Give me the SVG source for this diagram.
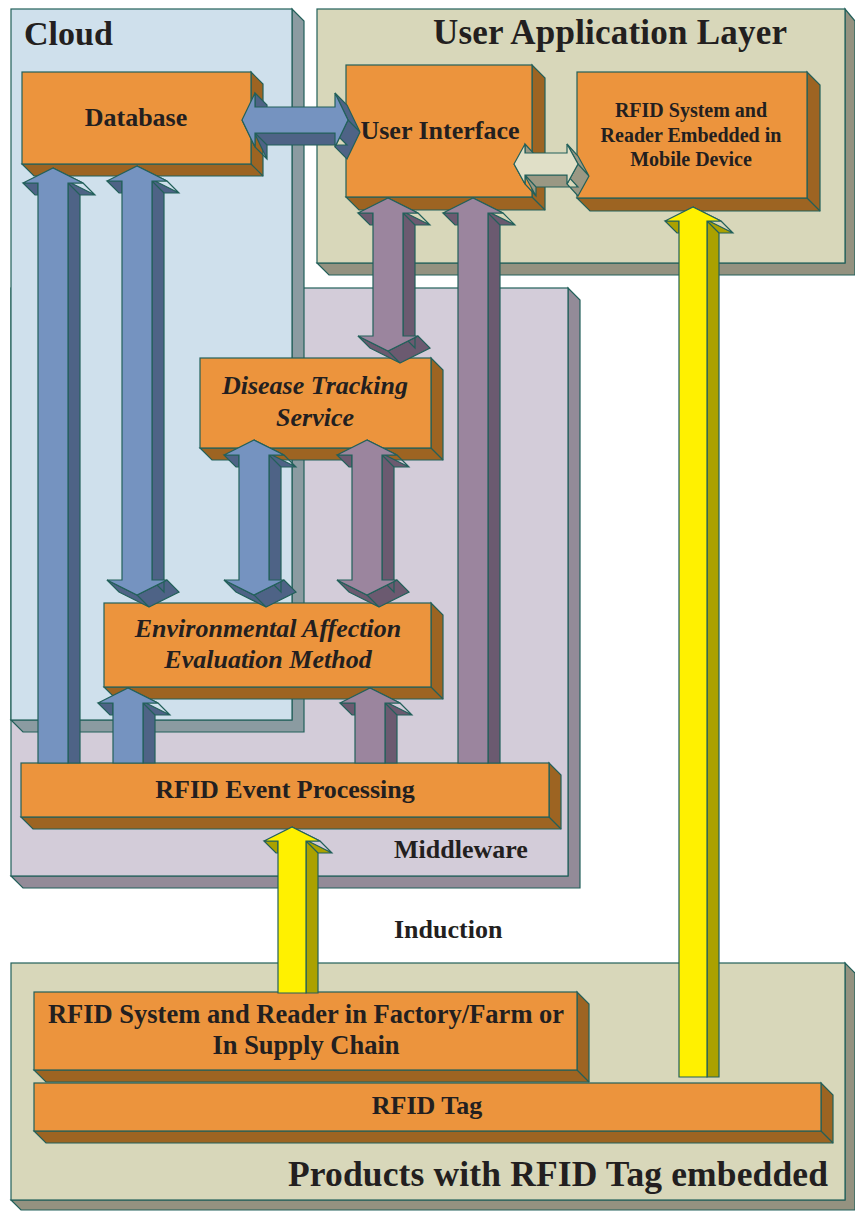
<svg xmlns="http://www.w3.org/2000/svg" width="855" height="1211" viewBox="0 0 855 1211">
<style>
  .s { stroke:#22605a; stroke-width:1.2; stroke-linejoin:miter; }
  .t { font-family:"Liberation Serif","Times New Roman",serif; font-weight:bold; fill:#231f20; }
  .c { text-anchor:middle; }
  .i { font-style:italic; }
  .of { fill:#ec943d; } .os { fill:#9d6422; }
  .cf { fill:#cfe0ec; } .cs { fill:#8b9ba1; }
  .uf { fill:#d8d7ba; } .us { fill:#949280; }
  .mf { fill:#d3ccd9; } .ms { fill:#938b98; }
  .bf { fill:#7593c0; } .bs { fill:#4e6386; }
  .pf { fill:#9b859e; } .ps { fill:#6b5a70; }
  .yf { fill:#fff100; } .ys { fill:#aba100; }
  .gf { fill:#e0dfc7; } .gs { fill:#9a9884; }
</style>
<rect width="855" height="1211" fill="#ffffff"/>

<!-- Panels -->
<g id="middleware">
  <polygon class="s ms" points="568,288 580,300 580,888 23,888 11,876 568,876"/>
  <rect class="s mf" x="11" y="288" width="557" height="588"/>
  <text class="t" x="394" y="858" font-size="26">Middleware</text>
</g>
<g id="cloud">
  <polygon class="s cs" points="292,9 304,21 304,732 23,732 11,720 292,720"/>
  <rect class="s cf" x="11" y="9" width="281" height="711"/>
  <text class="t" x="24" y="45" font-size="34">Cloud</text>
</g>
<g id="user-application-layer">
  <polygon class="s us" points="845,9 855,21 855,275 329,275 317,263 845,263"/>
  <rect class="s uf" x="317" y="9" width="528" height="254"/>
  <text class="t" x="433" y="44" font-size="35" textLength="354">User Application Layer</text>
</g>
<g id="products">
  <polygon class="s us" points="845,963 855,973 855,1210 21,1210 11,1200 845,1200"/>
  <rect class="s uf" x="11" y="963" width="834" height="237"/>
  <text class="t" x="288" y="1186" font-size="35.5" textLength="540">Products with RFID Tag embedded</text>
</g>

<text id="induction" class="t" x="394" y="938" font-size="26">Induction</text>

<!-- Nodes -->
<g id="database">
  <polygon class="s os" points="251,72 263,84 263,176 34,176 22,164 251,164"/>
  <line class="s" x1="251" y1="164" x2="263" y2="176"/>
  <rect class="s of" x="22" y="72" width="229" height="92"/>
  <text class="t c" x="136" y="126" font-size="26">Database</text>
</g>
<g id="user-interface">
  <polygon class="s os" points="532,65 545,78 545,210 359,210 346,197 532,197"/>
  <line class="s" x1="532" y1="197" x2="545" y2="210"/>
  <rect class="s of" x="346" y="65" width="186" height="132"/>
  <text class="t c" x="440" y="139" font-size="26">User Interface</text>
</g>
<g id="rfid-mobile">
  <polygon class="s os" points="807,72 820,85 820,211 590,211 577,198 807,198"/>
  <line class="s" x1="807" y1="198" x2="820" y2="211"/>
  <rect class="s of" x="577" y="72" width="230" height="126"/>
  <text class="t c" x="691" y="117" font-size="20">RFID System and</text>
  <text class="t c" x="691" y="142" font-size="20">Reader Embedded in</text>
  <text class="t c" x="691" y="166" font-size="20">Mobile Device</text>
</g>
<g id="disease-tracking">
  <polygon class="s os" points="431,358 443,370 443,460 212,460 200,448 431,448"/>
  <line class="s" x1="431" y1="448" x2="443" y2="460"/>
  <rect class="s of" x="200" y="358" width="231" height="90"/>
  <text class="t i c" x="315" y="394" font-size="26">Disease Tracking</text>
  <text class="t i c" x="315" y="426" font-size="26">Service</text>
</g>
<g id="environmental">
  <polygon class="s os" points="431,603 443,615 443,699 116,699 104,687 431,687"/>
  <line class="s" x1="431" y1="687" x2="443" y2="699"/>
  <rect class="s of" x="104" y="603" width="327" height="84"/>
  <text class="t i c" x="268" y="637" font-size="26">Environmental Affection</text>
  <text class="t i c" x="268" y="668" font-size="26">Evaluation Method</text>
</g>
<g id="rfid-event-processing">
  <polygon class="s os" points="549,763 561,775 561,829 33,829 21,817 549,817"/>
  <line class="s" x1="549" y1="817" x2="561" y2="829"/>
  <rect class="s of" x="21" y="763" width="528" height="54"/>
  <text class="t c" x="285" y="798" font-size="26">RFID Event Processing</text>
</g>
<g id="rfid-factory">
  <polygon class="s os" points="577,992 589,1004 589,1082 46,1082 34,1070 577,1070"/>
  <line class="s" x1="577" y1="1070" x2="589" y2="1082"/>
  <rect class="s of" x="34" y="992" width="543" height="78"/>
  <text class="t c" x="306" y="1023" font-size="26.5">RFID System and Reader in Factory/Farm or</text>
  <text class="t c" x="306" y="1054" font-size="26.5">In Supply Chain</text>
</g>
<g id="rfid-tag">
  <polygon class="s os" points="821,1083 833,1095 833,1143 46,1143 34,1131 821,1131"/>
  <line class="s" x1="821" y1="1131" x2="833" y2="1143"/>
  <rect class="s of" x="34" y="1083" width="787" height="48"/>
  <text class="t c" x="427" y="1114" font-size="26">RFID Tag</text>
</g>

<!-- Connectors -->
<g id="connectors">
  <!-- EventProc -> Database (blue, up) -->
  <g transform="translate(53,168)">
    <path class="s bs" d="M15,15 L27,27 L27,595 L15,595 Z M0,0 L12,12 L42,27 L30,15 Z M30,15 L42,27 L27,27 L15,15 Z M-30,15 L-18,27 L-15,27 L-15,15 Z"/>
    <path class="s bf" d="M0,0 L30,15 L15,15 L15,595 L-15,595 L-15,15 L-30,15 Z"/>
  </g>
  <!-- Database <-> EAEM (blue, double) -->
  <g transform="translate(137,166)">
    <path class="s bs" d="M15,15 L27,27 L27,426 L15,414 Z M0,0 L12,12 L42,27 L30,15 Z M30,15 L42,27 L27,27 L15,15 Z M-30,15 L-18,27 L-15,27 L-15,15 Z M0,429 L30,414 L42,426 L12,441 Z M-30,414 L0,429 L12,441 L-18,426 Z"/>
    <path class="s bf" d="M0,0 L30,15 L15,15 L15,414 L30,414 L0,429 L-30,414 L-15,414 L-15,15 L-30,15 Z"/>
  </g>
  <!-- EventProc -> EAEM (blue, up) -->
  <g transform="translate(128,688)">
    <path class="s bs" d="M15,15 L27,27 L27,75 L15,75 Z M0,0 L12,12 L42,27 L30,15 Z M30,15 L42,27 L27,27 L15,15 Z M-30,15 L-18,27 L-15,27 L-15,15 Z"/>
    <path class="s bf" d="M0,0 L30,15 L15,15 L15,75 L-15,75 L-15,15 L-30,15 Z"/>
  </g>
  <!-- DTS <-> EAEM (blue, double) -->
  <g transform="translate(254,440)">
    <path class="s bs" d="M15,15 L27,27 L27,152 L15,140 Z M0,0 L12,12 L42,27 L30,15 Z M30,15 L42,27 L27,27 L15,15 Z M-30,15 L-18,27 L-15,27 L-15,15 Z M0,155 L30,140 L42,152 L12,167 Z M-30,140 L0,155 L12,167 L-18,152 Z"/>
    <path class="s bf" d="M0,0 L30,15 L15,15 L15,140 L30,140 L0,155 L-30,140 L-15,140 L-15,15 L-30,15 Z"/>
  </g>
  <!-- DTS <-> EAEM (purple, double) -->
  <g transform="translate(367,440)">
    <path class="s ps" d="M15,15 L27,27 L27,152 L15,140 Z M0,0 L12,12 L42,27 L30,15 Z M30,15 L42,27 L27,27 L15,15 Z M-30,15 L-18,27 L-15,27 L-15,15 Z M0,155 L30,140 L42,152 L12,167 Z M-30,140 L0,155 L12,167 L-18,152 Z"/>
    <path class="s pf" d="M0,0 L30,15 L15,15 L15,140 L30,140 L0,155 L-30,140 L-15,140 L-15,15 L-30,15 Z"/>
  </g>
  <!-- EventProc -> EAEM (purple, up) -->
  <g transform="translate(370,688)">
    <path class="s ps" d="M15,15 L27,27 L27,75 L15,75 Z M0,0 L12,12 L42,27 L30,15 Z M30,15 L42,27 L27,27 L15,15 Z M-30,15 L-18,27 L-15,27 L-15,15 Z"/>
    <path class="s pf" d="M0,0 L30,15 L15,15 L15,75 L-15,75 L-15,15 L-30,15 Z"/>
  </g>
  <!-- UI <-> DTS (purple, double) -->
  <g transform="translate(388,198)">
    <path class="s ps" d="M15,15 L27,27 L27,150 L15,138 Z M0,0 L12,12 L42,27 L30,15 Z M30,15 L42,27 L27,27 L15,15 Z M-30,15 L-18,27 L-15,27 L-15,15 Z M0,153 L30,138 L42,150 L12,165 Z M-30,138 L0,153 L12,165 L-18,150 Z"/>
    <path class="s pf" d="M0,0 L30,15 L15,15 L15,138 L30,138 L0,153 L-30,138 L-15,138 L-15,15 L-30,15 Z"/>
  </g>
  <!-- EventProc -> UI (purple, up) -->
  <g transform="translate(473,198)">
    <path class="s ps" d="M15,15 L27,27 L27,565 L15,565 Z M0,0 L12,12 L42,27 L30,15 Z M30,15 L42,27 L27,27 L15,15 Z M-30,15 L-18,27 L-15,27 L-15,15 Z"/>
    <path class="s pf" d="M0,0 L30,15 L15,15 L15,565 L-15,565 L-15,15 L-30,15 Z"/>
  </g>
  <!-- Factory -> EventProc (yellow, up) -->
  <g transform="translate(292,827)">
    <path class="s ys" d="M14,14 L26,26 L26,166 L14,166 Z M0,0 L12,12 L40,26 L28,14 Z M28,14 L40,26 L26,26 L14,14 Z M-28,14 L-16,26 L-14,26 L-14,14 Z"/>
    <path class="s yf" d="M0,0 L28,14 L14,14 L14,166 L-14,166 L-14,14 L-28,14 Z"/>
  </g>
  <!-- Tag -> Mobile RFID (yellow, up) -->
  <g transform="translate(693,207)">
    <path class="s ys" d="M14,14 L26,26 L26,870 L14,870 Z M0,0 L12,12 L40,26 L28,14 Z M28,14 L40,26 L26,26 L14,14 Z M-28,14 L-16,26 L-14,26 L-14,14 Z"/>
    <path class="s yf" d="M0,0 L28,14 L14,14 L14,870 L-14,870 L-14,14 L-28,14 Z"/>
  </g>
  <!-- Database <-> UI (blue, horizontal double) -->
  <path class="s bs" d="M255,133 L335,133 L347,145 L267,145 Z M255,93 L267,105 L267,119 L255,107 Z M255,133 L267,145 L267,159 L255,147 Z M242,120 L255,147 L267,159 L254,132 Z M335,93 L348,120 L360,132 L347,105 Z M348,120 L335,147 L347,159 L360,132 Z"/>
  <path class="s bf" d="M242,120 L255,93 L255,107 L335,107 L335,93 L348,120 L335,147 L335,133 L255,133 L255,147 Z"/>
  <!-- UI <-> Mobile RFID (grey, horizontal double) -->
  <path class="s gs" d="M525,175 L567,175 L578,187 L536,187 Z M525,144 L536,156 L536,165 L525,153 Z M525,175 L536,187 L536,196 L525,184 Z M514,164 L525,184 L536,196 L525,176 Z M567,144 L578,164 L589,176 L578,156 Z M578,164 L567,184 L578,196 L589,176 Z"/>
  <path class="s gf" d="M514,164 L525,144 L525,153 L567,153 L567,144 L578,164 L567,184 L567,175 L525,175 L525,184 Z"/>
</g>
</svg>
